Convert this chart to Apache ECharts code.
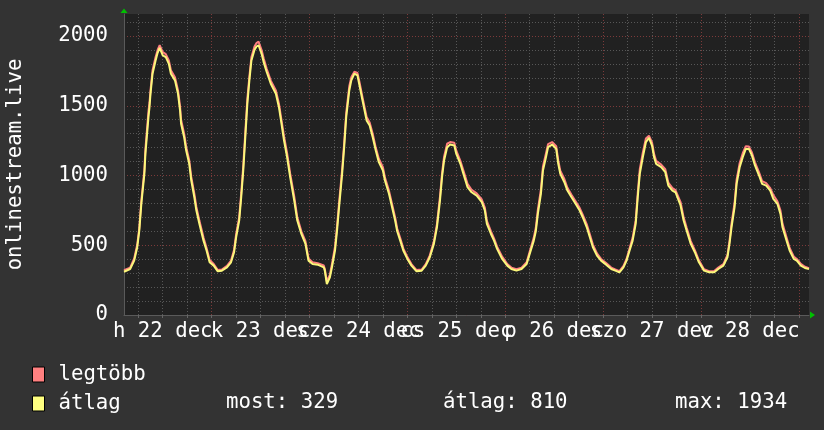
<!DOCTYPE html>
<html>
<head>
<meta charset="utf-8">
<script src="https://cdn.jsdelivr.net/npm/echarts@6/dist/echarts.min.js"></script>
<style>
html,body{margin:0;padding:0;background:#333333;}
#chart{width:824px;height:430px;}
</style>
</head>
<body>
<div id="chart"></div>
<script>
// Hours since midnight of Monday 22 Dec at which the curve was read
const sampleHours = [2.5,4.1,4.9,5.75,6.2,6.7,7.4,7.8,8.4,8.7,9.0,9.6,10.3,10.8,11.3,11.9,12.7,13.5,14.1,14.9,15.7,16.2,16.6,17.2,17.8,18.4,19.0,19.7,20.3,21.1,22.0,22.8,23.6,24.6,25.6,26.6,27.8,28.8,29.5,30.1,30.7,31.3,31.8,32.3,32.8,33.2,33.8,34.4,35.0,35.5,36.2,36.8,37.6,38.4,39.7,40.5,41.1,41.7,42.5,43.3,44.2,45.0,46.0,47.0,47.8,48.7,50.1,51.4,51.8,52.3,52.9,53.6,54.2,54.8,55.2,55.9,56.4,57.0,57.7,58.3,58.9,59.7,60.3,61.1,61.9,62.7,63.5,64.2,65.1,65.9,66.6,67.4,68.2,69.0,69.6,70.2,71.0,72.0,73.1,74.3,75.5,76.6,77.6,78.5,79.2,79.9,80.4,81.1,81.8,82.6,83.5,84.1,84.9,85.7,86.7,87.8,89.0,90.2,91.0,91.6,92.4,93.2,94.1,95.2,96.4,97.6,98.8,100.1,101.3,102.1,102.9,103.5,104.1,104.7,105.3,105.9,106.6,107.4,108.4,109.0,109.6,110.4,111.2,112.3,113.3,114.3,115.1,115.9,116.7,117.5,118.4,119.4,120.7,121.9,123.1,123.9,124.9,125.7,126.5,127.2,127.9,128.4,129.0,129.7,130.5,131.3,131.9,132.5,133.1,134.2,135.2,136.0,137.0,137.7,138.1,138.9,139.7,140.5,141.4,142.4,143.4,144.7,145.9,147.3,148.3,149.6,150.4,151.0,151.6,152.2,152.8,153.5,154.2,154.9,155.7,156.5,157.3,158.2,159.0,160.0,161.0,161.8,162.7,163.5,164.1,164.9,165.8,166.7,167.5,168.4,169.6,170.4];

const avgValues = [310,330,390,486,605,797,1012,1155,1419,1490,1586,1730,1825,1880,1915,1861,1849,1801,1730,1682,1586,1466,1371,1275,1179,1084,964,844,749,653,533,462,378,354,313,318,342,378,450,557,677,844,1036,1275,1514,1682,1825,1900,1925,1934,1873,1813,1742,1658,1586,1490,1395,1251,1132,988,821,677,581,510,390,366,361,342,318,222,270,342,462,605,773,1012,1203,1419,1610,1682,1730,1718,1646,1538,1395,1359,1275,1179,1096,1036,964,868,773,677,600,533,462,402,354,313,318,354,414,510,629,821,988,1108,1203,1222,1215,1155,1084,1012,916,880,856,809,749,653,581,533,474,402,354,330,318,330,366,438,533,600,725,868,1036,1132,1203,1222,1191,1084,1012,952,892,844,797,749,701,629,557,486,426,390,361,330,318,306,342,390,462,533,653,844,1012,1132,1239,1270,1215,1132,1084,1060,1024,928,892,880,868,785,677,605,510,450,378,318,306,306,330,354,414,510,629,773,940,1060,1132,1191,1191,1144,1072,1000,940,928,892,833,797,725,629,533,462,402,390,354,337,329];

const maxValues = [322,340,405,505,625,820,1040,1190,1460,1520,1610,1755,1850,1900,1935,1885,1870,1825,1755,1705,1610,1495,1400,1300,1205,1110,990,870,775,675,555,480,395,366,322,326,352,390,468,580,700,875,1070,1310,1550,1710,1850,1925,1950,1960,1900,1840,1765,1680,1610,1515,1420,1280,1160,1015,850,700,600,530,405,378,372,355,330,240,290,365,490,635,805,1045,1235,1450,1640,1705,1745,1735,1670,1560,1420,1380,1300,1200,1120,1060,985,890,795,700,620,552,478,415,365,322,326,364,428,528,652,850,1015,1135,1228,1240,1235,1178,1105,1035,940,898,872,828,770,675,600,550,490,418,366,340,328,340,378,455,555,625,755,900,1065,1160,1225,1240,1210,1110,1035,975,912,862,815,768,720,650,578,505,442,402,372,340,327,315,352,402,478,555,680,875,1045,1165,1265,1285,1238,1155,1105,1078,1045,950,910,895,885,810,700,625,530,465,392,328,314,315,340,365,430,530,655,805,970,1090,1160,1210,1208,1165,1095,1022,960,945,910,860,815,750,655,555,480,420,402,366,346,336];

const dayLabels = ['h 22 dec','k 23 dec','sze 24 dec','cs 25 dec','p 26 dec','szo 27 dec','v 28 dec'];
const seriesNames = ['legtöbb','átlag'];
const statLabels = ['most: 329','átlag: 810','max: 1934'];
const yTickStep = 500;

// quarter-hour category axis from 02:30 Dec 22 to 02:30 Dec 29
const startHour = 2.5, endHour = 170.5, stepsPerHour = 4;
const categories = [];
for (let i = 0; i <= (endHour - startHour) * stepsPerHour; i++) categories.push(String(startHour + i / stepsPerHour));
const toIdx = h => Math.round((h - startHour) * stepsPerHour);
const gridFirst = toIdx(6), gridEvery = 6 * stepsPerHour;
const labelFirst = toIdx(12), labelEvery = 24 * stepsPerHour;
const dayOf = i => (i - labelFirst) / labelEvery;

const FONT = 'DejaVu Sans Mono';
const FS = 20.7;
const MINOR = '#575757', MAJOR = '#7c3a3a';

// day labels split over two overlaid axes (even / odd days) so none is dropped as overlapping
function labelAxis(parity, main) {
  return {
    type: 'category', data: categories, boundaryGap: false, position: 'bottom',
    axisLine: {show: main, lineStyle: {color: '#5a5a5a', width: 1}},
    axisTick: {show: main, length: 3, interval: i => i >= gridFirst && (i - gridFirst) % gridEvery === 0, lineStyle: {color: '#666'}},
    axisLabel: {
      show: true, color: '#ffffff', fontFamily: FONT, fontSize: FS, margin: 6,
      interval: i => i >= labelFirst && (i - labelFirst) % labelEvery === 0 && dayOf(i) % 2 === parity,
      formatter: (v, i) => dayLabels[Math.round(dayOf(i))] || ''
    },
    splitLine: {
      show: main,
      interval: i => i >= gridFirst && (i - gridFirst) % gridEvery === 0,
      lineStyle: {color: [MINOR, MINOR, MINOR, MAJOR], type: [1, 2], width: 1}
    }
  };
}

const chart = echarts.init(document.getElementById('chart'), null, {renderer: 'canvas'});
chart.setOption({
  animation: false,
  backgroundColor: '#333333',
  grid: {left: 124, right: 15, top: 14, bottom: 115, show: true, backgroundColor: '#212121', borderWidth: 0,
    containLabel: false, outerBoundsMode: 'none'},
  legend: {
    orient: 'vertical', left: 32, top: 364, padding: 0,
    itemWidth: 12, itemHeight: 15, itemGap: 8,
    icon: 'rect',
    itemStyle: {borderColor: '#000', borderWidth: 1},
    textStyle: {color: '#ffffff', fontFamily: FONT, fontSize: FS, lineHeight: 18, padding: [0, 0, 0, 9]},
    data: seriesNames
  },
  xAxis: [labelAxis(0, true), labelAxis(1, false)],
  yAxis: {
    type: 'value', min: 0, max: 2158, interval: 100,
    name: 'onlinestream.live', nameLocation: 'middle', nameGap: 98,
    nameTextStyle: {color: '#ffffff', fontFamily: FONT, fontSize: FS},
    axisLine: {show: true, lineStyle: {color: '#5a5a5a'}},
    axisTick: {show: false},
    axisLabel: {color: '#ffffff', fontFamily: FONT, fontSize: FS, margin: 16,
      formatter: v => (v % yTickStep === 0 ? String(v) : '')},
    splitLine: {show: true, showMaxLine: false,
      lineStyle: {color: [MAJOR, MINOR, MINOR, MINOR, MINOR], type: [1, 2], width: 1}}
  },
  series: [
    {name: seriesNames[0], type: 'line', symbol: 'none', z: 2, xAxisIndex: 0,
      itemStyle: {color: '#ff8080'}, lineStyle: {color: '#ff7f7f', width: 2},
      data: sampleHours.map((h, k) => [toIdx(h), maxValues[k]])},
    {name: seriesNames[1], type: 'line', symbol: 'none', z: 3, xAxisIndex: 0,
      itemStyle: {color: '#ffff80'}, lineStyle: {color: '#fbf77a', width: 2},
      data: sampleHours.map((h, k) => [toIdx(h), avgValues[k]])}
  ],
  graphic: [
    {type: 'polygon', shape: {points: [[120.5, 13], [127.5, 13], [124, 8.5]]}, style: {fill: '#00c000'}, silent: true},
    {type: 'polygon', shape: {points: [[810, 311.5], [810, 318.5], [815, 315]]}, style: {fill: '#00c000'}, silent: true},
    {type: 'text', left: 226, top: 392, style: {text: statLabels[0], fill: '#ffffff', font: FS + 'px "' + FONT + '"'}},
    {type: 'text', left: 443, top: 392, style: {text: statLabels[1], fill: '#ffffff', font: FS + 'px "' + FONT + '"'}},
    {type: 'text', left: 675, top: 392, style: {text: statLabels[2], fill: '#ffffff', font: FS + 'px "' + FONT + '"'}}
  ]
});
</script>
</body>
</html>
